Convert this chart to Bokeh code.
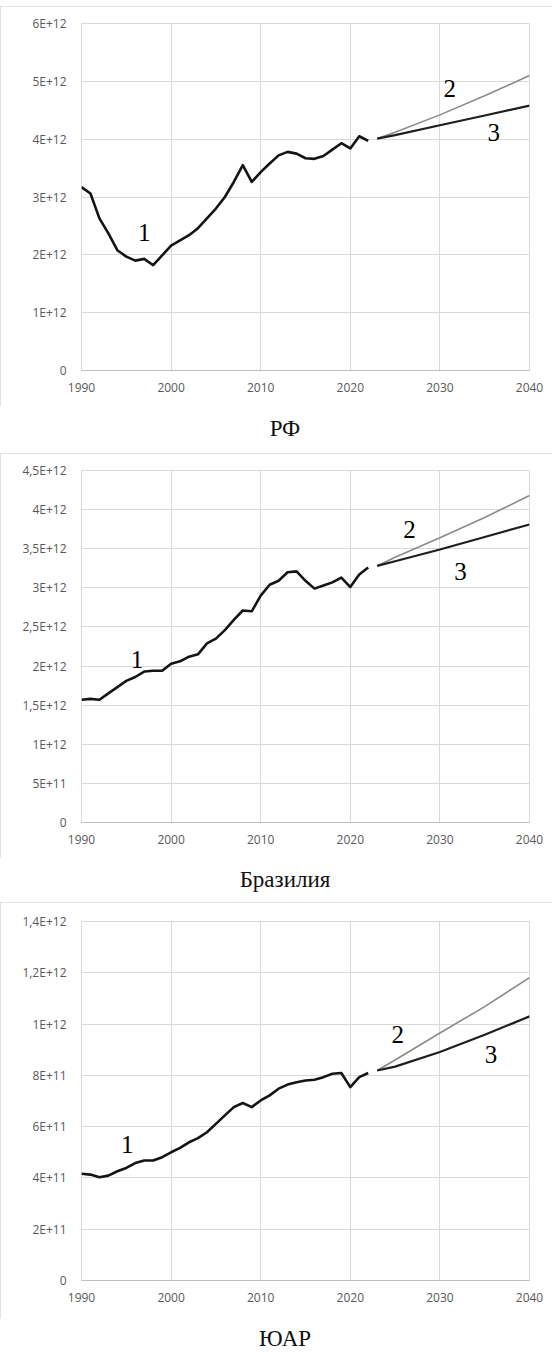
from bokeh.plotting import figure
from bokeh.models import FixedTicker, Range1d, Div
from bokeh.layouts import column
from bokeh.embed import file_html
from bokeh.resources import INLINE
from bokeh.core.properties import value

# ---------------- data ----------------
years_hist = list(range(1990, 2023))
years_fc = [2023, 2025, 2030, 2035, 2040]
x_ticks = [1990, 2000, 2010, 2020, 2030, 2040]

# Russia (units of 1E+12)
ru_hist = [3.17, 3.06, 2.63, 2.37, 2.08, 1.97, 1.90, 1.93, 1.82, 1.99,
           2.16, 2.25, 2.34, 2.46, 2.63, 2.80, 3.00, 3.26, 3.55, 3.26,
           3.43, 3.58, 3.72, 3.78, 3.75, 3.67, 3.66, 3.71, 3.82, 3.93,
           3.84, 4.05, 3.97]
ru_f2 = [4.01, 4.12, 4.42, 4.75, 5.10]
ru_f3 = [4.01, 4.07, 4.24, 4.41, 4.58]
ru_yticks = [0, 1e12, 2e12, 3e12, 4e12, 5e12, 6e12]
ru_ylabels = ["0", "1E+12", "2E+12", "3E+12", "4E+12", "5E+12", "6E+12"]
ru_lab_x = [1997.0, 2031.1, 2036.0]
ru_lab_y = [2.39, 4.88, 4.12]

# Brazil (units of 1E+12)
br_hist = [1.57, 1.58, 1.57, 1.65, 1.73, 1.81, 1.86, 1.93, 1.94, 1.94,
           2.03, 2.06, 2.12, 2.15, 2.29, 2.35, 2.46, 2.59, 2.71, 2.70,
           2.90, 3.04, 3.09, 3.20, 3.21, 3.09, 2.99, 3.03, 3.07, 3.13,
           3.01, 3.17, 3.26]
br_f2 = [3.28, 3.39, 3.64, 3.90, 4.18]
br_f3 = [3.28, 3.34, 3.49, 3.65, 3.81]
br_yticks = [0, 0.5e12, 1e12, 1.5e12, 2e12, 2.5e12, 3e12, 3.5e12, 4e12, 4.5e12]
br_ylabels = ["0", "5E+11", "1E+12", "1,5E+12", "2E+12", "2,5E+12",
              "3E+12", "3,5E+12", "4E+12", "4,5E+12"]
br_lab_x = [1996.2, 2026.6, 2032.3]
br_lab_y = [2.09, 3.74, 3.21]

# South Africa (units of 1E+11)
za_hist = [4.16, 4.13, 4.03, 4.09, 4.26, 4.39, 4.58, 4.68, 4.68, 4.81,
           5.00, 5.17, 5.39, 5.55, 5.78, 6.11, 6.44, 6.76, 6.92, 6.76,
           7.02, 7.22, 7.48, 7.64, 7.73, 7.80, 7.83, 7.93, 8.06, 8.09,
           7.54, 7.93, 8.09]
za_f2 = [8.19, 8.60, 9.65, 10.68, 11.81]
za_f3 = [8.19, 8.34, 8.91, 9.58, 10.30]
za_yticks = [0, 2e11, 4e11, 6e11, 8e11, 1e12, 1.2e12, 1.4e12]
za_ylabels = ["0", "2E+11", "4E+11", "6E+11", "8E+11", "1E+12", "1,2E+12", "1,4E+12"]
za_lab_x = [1995.1, 2025.3, 2035.7]
za_lab_y = [5.30, 9.59, 8.81]

series_labels = ["1", "2", "3"]
titles = ["РФ", "Бразилия", "ЮАР"]

GRID = "#d9d9d9"
TICK = "#595959"
PAGE_W = 552


def panel(height, margin, ymax, yticks, ylabels, unit, hist, f2, f3,
          lab_x, lab_y, bl, br, bt, bb):
    p = figure(width=PAGE_W, height=height, margin=margin,
               output_backend="svg", toolbar_location=None,
               x_range=Range1d(1990, 2040), y_range=Range1d(0, ymax),
               min_border_left=bl, min_border_right=br, min_border_top=bt,
               min_border_bottom=bb, background_fill_color="white",
               border_fill_color="white", outline_line_color=GRID,
               styles={"outline": "1px solid #d9d9d9", "outline-offset": "-1px"})
    p.xaxis.ticker = FixedTicker(ticks=x_ticks)
    p.yaxis.ticker = FixedTicker(ticks=yticks)
    p.yaxis.major_label_overrides = {float(t): l for t, l in zip(yticks, ylabels)}
    for ax in (p.xaxis, p.yaxis):
        ax.major_tick_line_color = None
        ax.minor_tick_line_color = None
        ax.major_tick_out = 0
        ax.major_tick_in = 0
        ax.minor_tick_out = 0
        ax.major_label_text_font = "Open Sans"
        ax.major_label_text_font_size = "12px"
        ax.major_label_text_color = TICK
    p.xaxis.axis_line_color = "#bfbfbf"
    p.yaxis.axis_line_color = None
    p.xaxis.major_label_standoff = 12
    p.yaxis.major_label_standoff = 15
    p.xgrid.grid_line_color = GRID
    p.ygrid.grid_line_color = GRID

    p.line(years_hist, [v * unit for v in hist],
           line_color="#141414", line_width=2.6, line_join="round")
    p.line(years_fc, [v * unit for v in f2], line_color="#8a8a8a", line_width=1.6)
    p.line(years_fc, [v * unit for v in f3], line_color="#1e1e1e", line_width=2.2)
    p.text(x=lab_x, y=[v * unit for v in lab_y], text=series_labels,
           text_font=value("Liberation Serif"), text_font_size="25px",
           text_align="center", text_baseline="middle", text_color="black")
    return p


def title_div(txt, height, pad_top):
    html = (f'<div style="display:block;box-sizing:border-box;width:{PAGE_W}px;'
            f'padding-left:18px;padding-top:{pad_top}px;'
            f'text-align:center;font-family:\'Liberation Serif\';font-size:23px;'
            f'line-height:14px;color:#111111;white-space:nowrap">{txt}</div>')
    return Div(text=html, width=PAGE_W, height=height, margin=0)


p1 = panel(400, (6, 0, 0, 0), 6e12, ru_yticks, ru_ylabels, 1e12,
           ru_hist, ru_f2, ru_f3, ru_lab_x, ru_lab_y, 72, 23, 17, 36)
p2 = panel(405, 0, 4.5e12, br_yticks, br_ylabels, 1e12,
           br_hist, br_f2, br_f3, br_lab_x, br_lab_y, 81, 19, 17, 36)
p3 = panel(417, 0, 1.4e12, za_yticks, za_ylabels, 1e11,
           za_hist, za_f2, za_f3, za_lab_x, za_lab_y, 77, 15, 19, 39)

layout = column(p1, title_div(titles[0], 47, 16),
                p2, title_div(titles[1], 44, 15),
                p3, title_div(titles[2], 33, 13),
                spacing=0)

open("out.html", "w").write(file_html(layout, INLINE))
